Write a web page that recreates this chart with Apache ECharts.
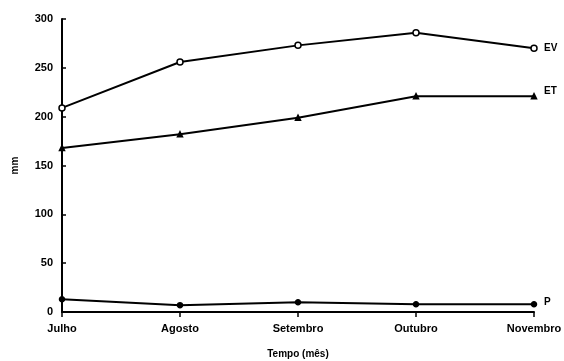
<!DOCTYPE html>
<html><head><meta charset="utf-8">
<script src="https://cdn.jsdelivr.net/npm/echarts@6/dist/echarts.min.js"></script>
<style>html,body{margin:0;padding:0;background:#fff}#c{width:564px;height:361px}</style>
</head><body><div id="c"></div>
<script>
var categories = ['Julho', 'Agosto', 'Setembro', 'Outubro', 'Novembro'];
var EV = [209, 256, 273, 286, 270];
var ET = [168, 182, 199, 221, 221];
var P = [13, 7, 10, 8, 8];
var yTicks = [0, 50, 100, 150, 200, 250, 300];

var font = 'Liberation Sans';
function mk(name, data, symbol, size, fill, offY) {
  return {
    name: name, type: 'line', data: data, symbol: symbol, symbolSize: size,
    lineStyle: {color: '#000', width: 2},
    itemStyle: {color: fill, borderColor: '#000', borderWidth: 1.5},
    endLabel: {show: true, formatter: name, color: '#000', fontFamily: font, fontWeight: 'bold', fontSize: 10, distance: 10, offset: [0, offY]},
    animation: false
  };
}
var chart = echarts.init(document.getElementById('c'), null, {renderer: 'canvas'});
chart.setOption({
  backgroundColor: '#fff',
  animation: false,
  grid: {left: 62, right: 30, top: 19, bottom: 49, outerBoundsMode: 'none', containLabel: false},
  xAxis: {
    type: 'category', data: categories, boundaryGap: false,
    name: 'Tempo (mês)', nameLocation: 'middle', nameGap: 37,
    nameTextStyle: {color: '#000', fontFamily: font, fontWeight: 'bold', fontSize: 10},
    axisLine: {lineStyle: {color: '#000', width: 2}},
    axisTick: {show: true, alignWithLabel: true, length: 5, inside: false, lineStyle: {color: '#000', width: 1.5}},
    axisLabel: {color: '#000', fontFamily: font, fontWeight: 'bold', fontSize: 11, margin: 11},
    splitLine: {show: false}
  },
  yAxis: {
    type: 'value', min: 0, max: 300, interval: 50,
    name: 'mm', nameLocation: 'middle', nameGap: 42, nameRotate: 90,
    nameTextStyle: {color: '#000', fontFamily: font, fontWeight: 'bold', fontSize: 10},
    axisLine: {show: true, lineStyle: {color: '#000', width: 2}},
    axisTick: {show: true, inside: true, length: 4, lineStyle: {color: '#000', width: 1.5}},
    axisLabel: {color: '#000', fontFamily: font, fontWeight: 'bold', fontSize: 11, margin: 9,
      formatter: function(v){ return yTicks.indexOf(v) >= 0 ? String(v) : ''; }},
    splitLine: {show: false}
  },
  series: [
    mk('EV', EV, 'circle', 6, '#fff', 0),
    mk('ET', ET, 'triangle', 5, '#000', -5),
    mk('P', P, 'circle', 5, '#000', -2)
  ]
});
</script></body></html>
